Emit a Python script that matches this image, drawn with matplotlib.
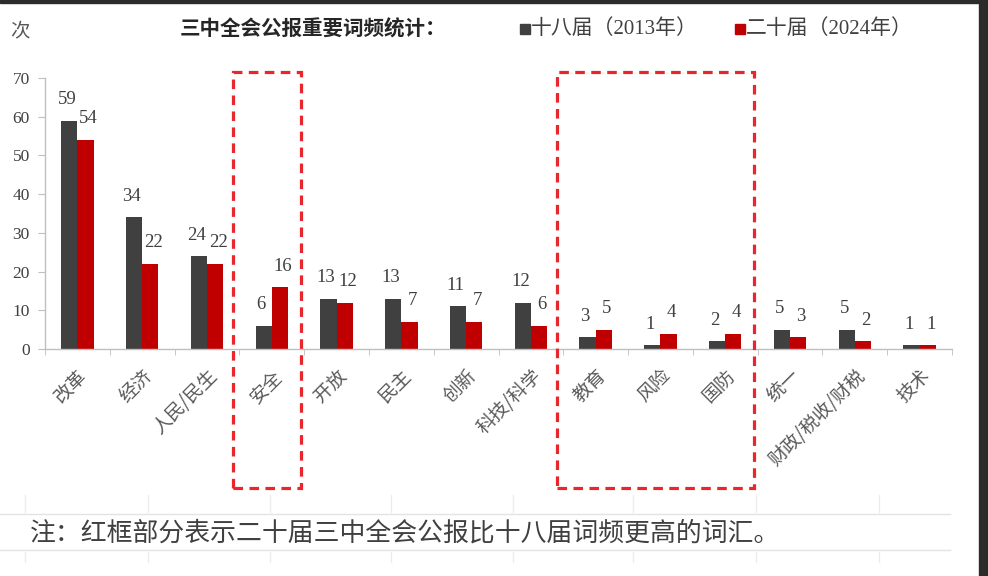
import matplotlib
matplotlib.use("Agg")
import matplotlib.pyplot as plt
from matplotlib.patches import Rectangle
from matplotlib.lines import Line2D
import numpy as np

categories = ["改革", "经济", "人民/民生", "安全", "开放", "民主", "创新", "科技/科学",
              "教育", "风险", "国防", "统一", "财政/税收/财税", "技术"]
s2013 = [59, 34, 24, 6, 13, 13, 11, 12, 3, 1, 2, 5, 5, 1]
s2024 = [54, 22, 22, 16, 12, 7, 7, 6, 5, 4, 4, 3, 2, 1]
series_names = ["十八届（2013年）", "二十届（2024年）"]
highlight_groups = [["安全"], ["教育", "风险", "国防"]]
yticks = [0, 10, 20, 30, 40, 50, 60, 70]
title = "三中全会公报重要词频统计："
ylabel = "次"
note = "注：红框部分表示二十届三中全会公报比十八届词频更高的词汇。"

GREY = "#404040"
RED = "#c00000"
BOX = "#e8262b"
TXT = "#404040"
CJK = ["Noto Sans CJK SC", "DejaVu Sans"]
SERIF = ["Liberation Serif", "Noto Sans CJK SC"]

W, H = 988, 576
fig = plt.figure(figsize=(W / 100, H / 100), dpi=100)
fig.patch.set_facecolor("white")

ax = fig.add_axes([45 / W, 1 - 349 / H, (952 - 45) / W, (349 - 78) / H])
x = np.arange(len(categories))
bw = 0.25
b1 = ax.bar(x - bw / 2, s2013, width=bw, color=GREY, zorder=2)
b2 = ax.bar(x + bw / 2, s2024, width=bw, color=RED, zorder=2)
for bars, vals, dx in ((b1, s2013, -1.8), (b2, s2024, 2.2)):
    for bar, v in zip(bars, vals):
        ax.annotate(str(v), (bar.get_x() + bar.get_width() / 2, v),
                    xytext=(dx, 9), textcoords="offset points",
                    ha="center", va="bottom", fontsize=13.5, color=TXT,
                    family=SERIF)

ax.set_xlim(-0.5, len(categories) - 0.5)
ax.set_ylim(0, 70)
ax.set_yticks(yticks)
ax.set_yticklabels([str(v) for v in yticks], family=SERIF, fontsize=12.5, color=TXT)
ax.tick_params(axis="y", direction="out", length=5, color="#bfbfbf", pad=6)
ax.set_xticks(x)
ax.set_xticklabels(categories, rotation=45, ha="right", va="top",
                   rotation_mode="anchor", family=CJK, fontsize=13.5, color="#595959")
ax.tick_params(axis="x", length=0, pad=12)
ax.set_xticks(np.arange(len(categories) + 1) - 0.5, minor=True)
ax.tick_params(axis="x", which="minor", direction="out", length=4, color="#bfbfbf")
for s in ("top", "right"):
    ax.spines[s].set_visible(False)
for s in ("left", "bottom"):
    ax.spines[s].set_color("#bfbfbf")
    ax.spines[s].set_linewidth(1.0)

# highlight boxes (dashed red)
for grp in highlight_groups:
    idx = [categories.index(c) for c in grp]
    x0 = min(idx) - 0.6
    x1 = max(idx) + 0.45
    rect = Rectangle((x0, -35.9), x1 - x0, 71.5 + 35.9, fill=False,
                     edgecolor=BOX, linestyle=(0, (3, 2)), linewidth=2.3,
                     clip_on=False, zorder=5)
    ax.add_patch(rect)

# header texts
fig.text(10 / W, 1 - 31 / H, ylabel, family=CJK, fontsize=14, color="#595959",
         va="center", ha="left")
fig.text(180 / W, 1 - 29 / H, title, family=CJK, fontsize=14.8, fontweight="bold",
         color="#262626", va="center", ha="left")
for (sx, col, name) in [(520, GREY, series_names[0]), (735, RED, series_names[1])]:
    fig.patches.append(Rectangle((sx / W, 1 - 34 / H), 10 / W, 10 / H,
                                 transform=fig.transFigure, color=col, figure=fig))
    fig.text((sx + 11) / W, 1 - 29 / H, name, family=SERIF, fontsize=15,
             color=TXT, va="center", ha="left")

# faint spreadsheet grid lines at bottom
for yy in (514, 550):
    fig.add_artist(Line2D([0, 950 / W], [1 - yy / H, 1 - yy / H],
                          transform=fig.transFigure, color="#e3e3e3", lw=1))
for xx in (25, 148, 270, 391, 513, 633, 756, 879):
    fig.add_artist(Line2D([xx / W, xx / W], [1 - 495 / H, 1 - 512 / H],
                          transform=fig.transFigure, color="#ececec", lw=1))
    fig.add_artist(Line2D([xx / W, xx / W], [1 - 552 / H, 1 - 562 / H],
                          transform=fig.transFigure, color="#ececec", lw=1))

fig.text(30 / W, 1 - 533 / H, note, family=CJK, fontsize=18.6, color="#404040",
         va="center", ha="left")

# dark screenshot borders
fig.patches.append(Rectangle((979 / W, 0), 9 / W, 1, transform=fig.transFigure,
                             color="#2b2b2b", figure=fig))
fig.patches.append(Rectangle((0, 1 - 3 / H), 1, 3 / H, transform=fig.transFigure,
                             color="#2b2b2b", figure=fig))

fig.savefig("out.png", dpi=100)
